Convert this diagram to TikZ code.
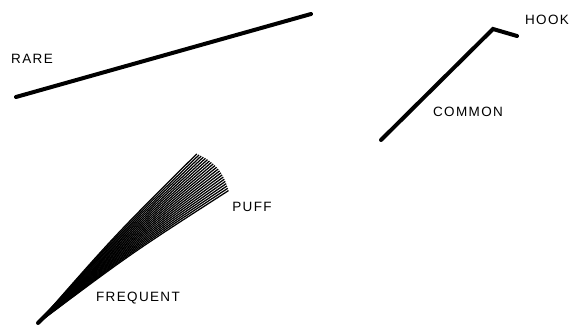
\documentclass[tikz,border=0pt]{standalone}
\usepackage{fontspec}
\usetikzlibrary{calc}
\setmainfont{Liberation Sans}
\newfontfamily\lblfont[LetterSpace=10]{Liberation Sans}
\begin{document}
\begin{tikzpicture}[x=1pt,y=1pt,
  lbl/.style={font=\lblfont\fontsize{13.5}{14}\selectfont, inner sep=0pt, text=black},
  thickline/.style={line width=4pt, line cap=round, line join=miter},
  fanline/.style={line width=1.25pt}]
\useasboundingbox (0,0) rectangle (571,326);
% RARE
\coordinate (r1) at (16,229);
\coordinate (r2) at (311,312);
\draw[thickline] (r1) -- (r2);
\node[lbl] (rare) at (32,267) {RARE};
% COMMON with hook
\coordinate (c1) at (381,186);
\coordinate (c2) at (493,297);
\coordinate (c3) at (517,290);
\draw[thickline] (c1) -- (c2) -- (c3);
\node[lbl] (hook) at (547,306) {HOOK};
\node[lbl] (common) at (468,214) {COMMON};
% FREQUENT with puff
\coordinate (f0) at (38,3);
\draw[line width=4pt, line cap=round] (f0) -- (62,27);
\foreach \i in {0,...,21}{
  \pgfmathsetmacro{\ang}{46.8-12*\i/21}
  \pgfmathsetmacro{\rad}{232+5*sin(180*\i/21)}
  \draw[fanline] (f0) .. controls ($(f0)+(\ang+2:\rad*0.5)$) .. ($(f0)+(\ang:\rad)$);
}
\node[lbl] (puff) at (252,119) {PUFF};
\node[lbl] (freq) at (138,28) {FREQUENT};
\end{tikzpicture}
\end{document}
